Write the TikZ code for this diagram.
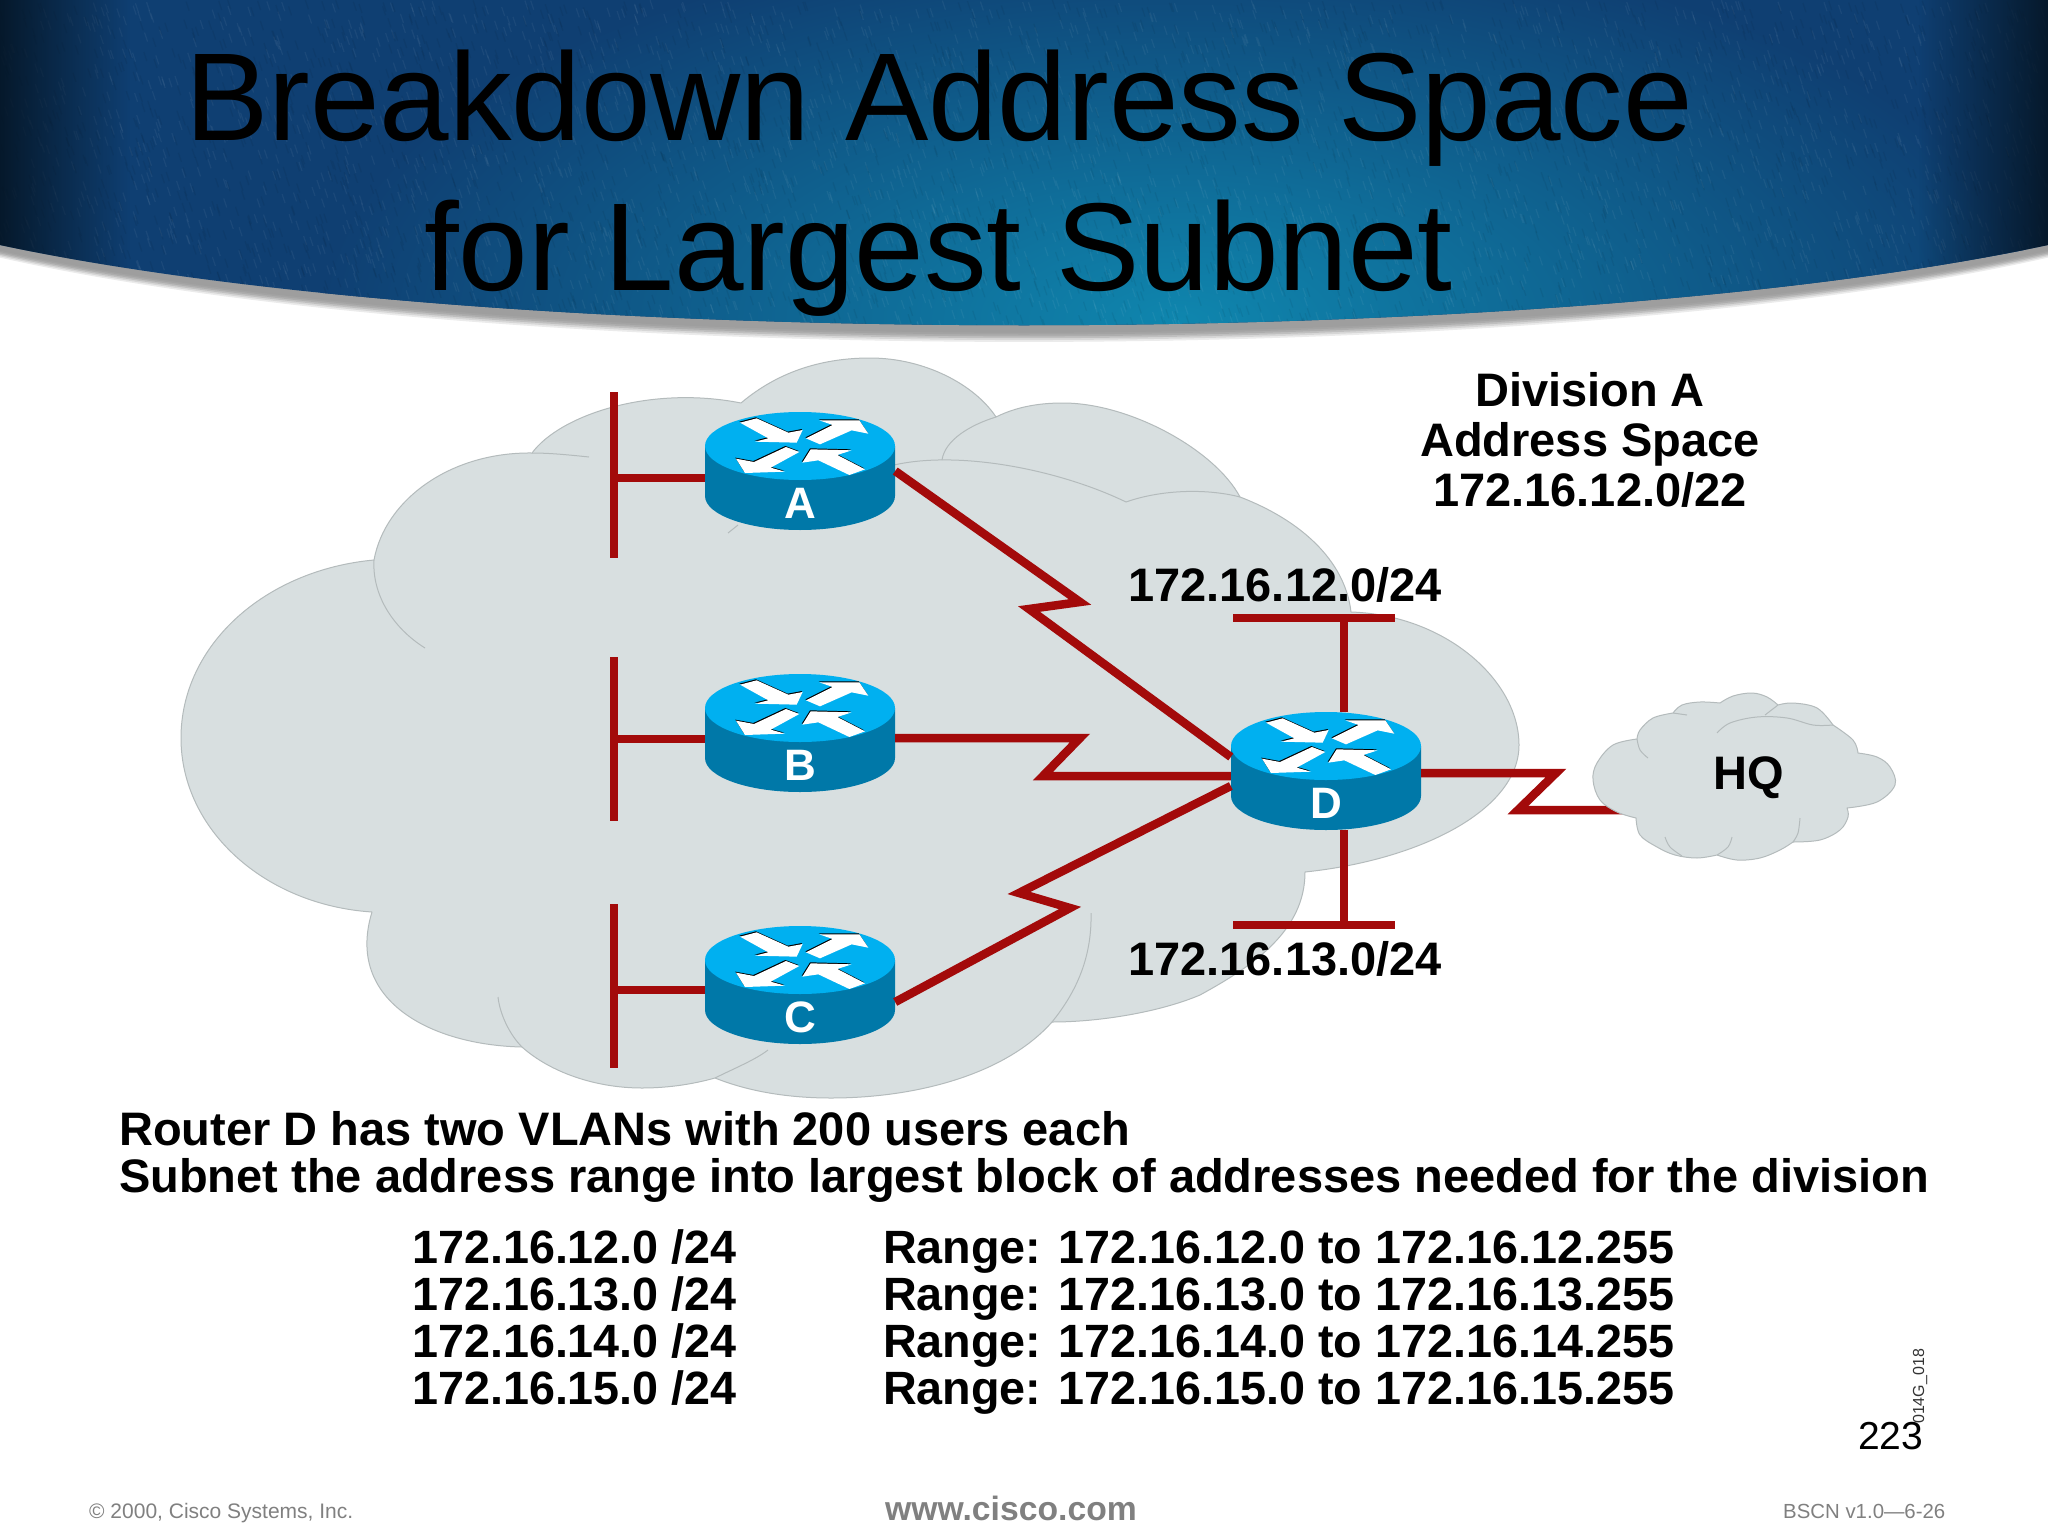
\documentclass[tikz,border=0pt]{standalone}
\usepackage{fontspec}
\setmainfont{Liberation Sans}
\usetikzlibrary{fadings,calc}
\definecolor{linkred}{HTML}{A30A0A}
\definecolor{cloudfill}{HTML}{D8DFE0}
\definecolor{cloudline}{HTML}{B4BBBC}
\definecolor{rtop}{HTML}{00B0F0}
\definecolor{rside}{HTML}{0078A8}
\definecolor{hdbase}{HTML}{0F3F72}
\definecolor{hdglow}{HTML}{0F86AE}
\definecolor{hdedge}{HTML}{04121F}
\newcommand{\fsz}[1]{\fontsize{#1}{#1}\selectfont}
\tikzset{
  link/.style={draw=linkred,line width=8.5pt,line join=miter,miter limit=8},
  lan/.style={draw=linkred,line width=8pt},
  cloudblob/.style={fill=cloudfill,draw=cloudline,line width=1pt,line join=round},
  cloudedge/.style={draw=cloudline,line width=1pt},
  rnode/.style={minimum width=190pt,minimum height=118pt,inner sep=0pt,draw=none},
  body/.style={font=\bfseries\fsz{47},text=black,inner sep=0pt,anchor=base west},
  tabtext/.style={font=\bfseries\fsz{46.7},text=black,inner sep=0pt,anchor=base west},
  bodyc/.style={font=\bfseries\fsz{47},text=black,inner sep=0pt,anchor=base},
  foot/.style={text=black!50,inner sep=0pt,anchor=base west}
}
\newcommand{\routerat}[4]{%
  \begin{scope}[shift={(#2,#3)}]
    \fill[rside] (-95,-25) -- (-95,25) arc[start angle=180,end angle=0,x radius=95,y radius=34] -- (95,-25) -- cycle;
    \fill[rtop] (0,-25) ellipse[x radius=95,y radius=34];
  \end{scope}
  \begin{scope}[shift={(#2,#3-25)},x=0.3333pt,y=-0.3333pt]
    \foreach \dx/\dy/\col in {-2/3/black,0/0/white}{
      \begin{scope}[shift={(\dx,-\dy)}]
      \fill[\col] (-180,-70)--(-130,-83)--(-35,-40)--(8,-48)--(-10,-10)--(-135,-13)--(-95,-23)--cycle;
      \fill[\col] (18,-23)--(98,-63)--(58,-77)--(178,-77)--(205,-37)--(155,-47)--(60,-5)--cycle;
      \fill[\col] (-2,18)--(-42,3)--(-138,48)--(-192,38)--(-165,81)--(-45,77)--(-88,65)--cycle;
      \fill[\col] (195,70)--(148,87)--(55,43)--(7,50)--(32,10)--(155,13)--(112,27)--cycle;
      \end{scope}
    }
  \end{scope}
  \node[rnode] (#1) at (#2,#3) {};
  \node[inner sep=0pt,text=white,font=\bfseries\fsz{44},anchor=base] (#1label) at (#2,#3+47) {#4};
}
\begin{document}
\begin{tikzpicture}[x=1pt,y=-1pt]
\useasboundingbox (0,0) rectangle (2048,1536);
\fill[white] (0,0) rectangle (2048,1536);
% header shadow: nested offset shapes
\foreach \d/\g in {18/8,16/16,14/25,12/32,10/36,8/38,6/38,3/38}{
  \fill[black!\g] (0,0) -- (2048,0) -- (2048,245+\d*0.7) .. controls (1548,352+\d) and (500,352+\d) .. (0,245+\d*0.7) -- cycle;
}
% header
\begin{scope}
  \clip (0,0) -- (2048,0) -- (2048,245) .. controls (1548,352) and (500,352) .. (0,245) -- cycle;
  \fill[hdbase] (0,0) rectangle (2048,345);
  \shade[inner color=hdglow,outer color=hdbase] (1180,320) ellipse[x radius=860,y radius=390];
  \pgfmathsetseed{4242}
  \foreach \i in {1,...,2800}{
    \pgfmathsetmacro{\px}{rnd*2048}
    \pgfmathsetmacro{\py}{rnd*345}
    \draw[white,opacity=.05,line width=1.2pt] (\px,\py) -- ++(3,9);
    \pgfmathsetmacro{\qx}{rnd*2048}
    \pgfmathsetmacro{\qy}{rnd*345}
    \draw[black,opacity=.06,line width=1.2pt] (\qx,\qy) -- ++(3,9);
  }
  \fill[hdedge,path fading=east,opacity=.85] (0,0) rectangle (130,345);
  \fill[hdedge,path fading=west,opacity=.85] (1918,0) rectangle (2048,345);
\end{scope}
% big cloud
\path[cloudblob]
  (372,912) .. controls (265,905) and (181,830) .. (181,738) .. controls (181,645) and (265,570) .. (374,560)
  .. controls (385,500) and (450,452) .. (532,453)
  .. controls (560,415) and (650,385) .. (741,403)
  .. controls (780,370) and (825,358) .. (870,358) .. controls (925,358) and (975,385) .. (996,417)
  .. controls (1020,405) and (1045,403) .. (1063,403) .. controls (1130,403) and (1215,450) .. (1240,497)
  .. controls (1300,520) and (1345,560) .. (1351,612)
  .. controls (1445,615) and (1519,680) .. (1519,745) .. controls (1519,810) and (1420,860) .. (1305,872)
  .. controls (1305,930) and (1255,965) .. (1200,995) .. controls (1160,1012) and (1100,1022) .. (1052,1022)
  .. controls (1005,1075) and (915,1098) .. (831,1098) .. controls (790,1098) and (750,1092) .. (715,1078)
  .. controls (690,1085) and (665,1088) .. (642,1088) .. controls (595,1088) and (550,1072) .. (522,1047)
  .. controls (430,1045) and (345,1000) .. (372,912)
  -- cycle;
\draw[cloudedge] (374,560) .. controls (372,595) and (393,628) .. (425,648);
\draw[cloudedge] (532,453) .. controls (550,453) and (570,455) .. (589,457);
\draw[cloudedge] (894,465) .. controls (960,450) and (1060,470) .. (1126,502);
\draw[cloudedge] (942,460) .. controls (945,440) and (970,425) .. (996,417);
\draw[cloudedge] (1126,502) .. controls (1160,490) and (1205,488) .. (1240,497);
\draw[cloudedge] (728,533) -- (738,525);
\draw[cloudedge] (1091,913) .. controls (1092,955) and (1078,990) .. (1052,1022);
\draw[cloudedge] (498,997) .. controls (500,1015) and (510,1035) .. (522,1047);
\draw[cloudedge] (715,1078) .. controls (735,1068) and (755,1060) .. (768,1050);
% routers
\routerat{A}{800}{471}{A}
\routerat{B}{800}{733}{B}
\routerat{C}{800}{985}{C}
\routerat{D}{1326}{771}{D}
% bars
\coordinate (barAt) at (614,392); \coordinate (barAb) at (614,558); \coordinate (barAm) at (614,478);
\coordinate (barBt) at (614,657); \coordinate (barBb) at (614,821); \coordinate (barBm) at (614,739);
\coordinate (barCt) at (614,904); \coordinate (barCb) at (614,1068); \coordinate (barCm) at (614,990);
\draw[lan] (barAt) -- (barAb);
\draw[lan] (barBt) -- (barBb);
\draw[lan] (barCt) -- (barCb);
\draw[lan] (barAm) -- (A.west |- barAm);
\draw[lan] (barBm) -- (B.west |- barBm);
\draw[lan] (barCm) -- (C.west |- barCm);
\coordinate (vtl) at (1233,618); \coordinate (vtr) at (1395,618); \coordinate (vtm) at (1344,618);
\coordinate (vbl) at (1233,925); \coordinate (vbr) at (1395,925); \coordinate (vbm) at (1344,925);
\draw[lan] (vtl) -- (vtr);
\draw[lan] (vbl) -- (vbr);
\draw[lan] (vtm) -- (D.north -| vtm);
\draw[lan] (vbm) -- (D.south -| vbm);
% links
\draw[link] (A.east) -- (1080,602) -- (1029,609) -- ($(D.west)+(0,-14)$);
\draw[link] ($(B.east)+(0,5)$) -- (1080,738) -- (1043,776) -- ($(D.west)+(0,5)$);
\draw[link] ($(C.east)+(0,17)$) -- (1070,908) -- (1019,893) -- ($(D.west)+(0,15)$);
\coordinate (hqend) at (1630,810);
\draw[link] ($(D.east)+(0,2)$) -- (1556,773) -- (1518,810) -- (hqend);
% HQ cloud
\path[cloudblob]
  plot[smooth,tension=.6] coordinates {(1637,739)(1613,745)(1597,763)(1593,780)(1600,800)(1617,812)(1636,818)}
  -- plot[smooth,tension=.6] coordinates {(1636,818)(1640,835)(1657,847)(1675,855)(1697,858)(1717,855)}
  -- plot[smooth,tension=.6] coordinates {(1717,855)(1737,860)(1760,858)(1780,850)(1793,842)}
  -- plot[smooth,tension=.6] coordinates {(1793,842)(1820,840)(1840,830)(1848,817)(1847,808)}
  -- plot[smooth,tension=.6] coordinates {(1847,808)(1877,802)(1895,785)(1890,767)(1877,757)(1858,753)}
  -- plot[smooth,tension=.6] coordinates {(1858,753)(1853,740)(1833,725)}
  -- plot[smooth,tension=.6] coordinates {(1833,725)(1817,708)(1793,703)(1778,705)}
  -- plot[smooth,tension=.6] coordinates {(1778,705)(1767,697)(1752,693)(1733,696)(1720,703)}
  -- plot[smooth,tension=.6] coordinates {(1720,703)(1700,702)(1682,705)(1673,713)}
  -- plot[smooth,tension=.6] coordinates {(1673,713)(1653,718)(1640,730)(1637,739)}
  -- cycle;
\draw[cloudedge] plot[smooth,tension=.6] coordinates {(1637,739)(1640,750)(1648,758)};
\draw[cloudedge] (1673,713) -- (1687,715);
\draw[cloudedge] plot[smooth,tension=.6] coordinates {(1717,733)(1730,723)(1757,717)(1787,718)(1813,725)(1833,725)};
\draw[cloudedge] (1778,705) -- (1765,715);
\draw[cloudedge] plot[smooth,tension=.6] coordinates {(1665,837)(1670,847)(1682,856)};
\draw[cloudedge] plot[smooth,tension=.6] coordinates {(1732,837)(1728,847)(1717,855)};
\draw[cloudedge] plot[smooth,tension=.6] coordinates {(1800,818)(1798,833)(1793,842)};
% text
\node[inner sep=0pt,anchor=base west,font=\fsz{125}] (t1) at (185,141) {Breakdown Address Space};
\node[inner sep=0pt,anchor=base west,font=\fsz{125}] (t2) at (424,290) {for Largest Subnet};
\node[bodyc] (d1) at (1590,406) {Division A};
\node[bodyc] (d2) at (1590,456) {Address Space};
\node[bodyc] (d3) at (1590,506) {172.16.12.0/22};
\node[body] (n1) at (1128,601) {172.16.12.0/24};
\node[body] (n2) at (1128,975) {172.16.13.0/24};
\node[bodyc] (hq) at (1749,789) {HQ};
\node[body] (l1) at (119,1145) {Router D has two VLANs with 200 users each};
\node[body] (l2) at (119,1192) {Subnet the address range into largest block of addresses needed for the division};
\node[tabtext] (a1) at (412,1263) {172.16.12.0 /24};
\node[tabtext] (a2) at (412,1310) {172.16.13.0 /24};
\node[tabtext] (a3) at (412,1357) {172.16.14.0 /24};
\node[tabtext] (a4) at (412,1404) {172.16.15.0 /24};
\node[tabtext] (r1) at (883,1263) {Range: 172.16.12.0 to 172.16.12.255};
\node[tabtext] (r2) at (883,1310) {Range: 172.16.13.0 to 172.16.13.255};
\node[tabtext] (r3) at (883,1357) {Range: 172.16.14.0 to 172.16.14.255};
\node[tabtext] (r4) at (883,1404) {Range: 172.16.15.0 to 172.16.15.255};
\node[inner sep=0pt,anchor=base west,font=\fsz{39}] (pg) at (1858,1449) {223};
\node[inner sep=0pt,anchor=base west,font=\fsz{16},rotate=90,text=black!80] (code) at (1924,1424) {014G\_018};
\node[foot,font=\fsz{21}] (f1) at (89,1518) {© 2000, Cisco Systems, Inc.};
\node[foot,font=\bfseries\fsz{33.7}] (f2) at (885,1520) {www.cisco.com};
\node[foot,font=\fsz{20.4}] (f3) at (1783,1518) {BSCN v1.0—6-26};
\end{tikzpicture}
\end{document}
